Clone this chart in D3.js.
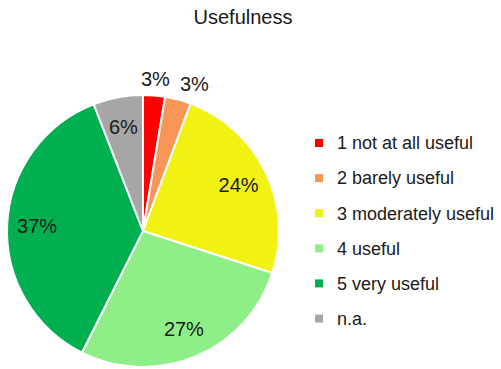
<!DOCTYPE html>
<html>
<head>
<meta charset="utf-8">
<script src="https://cdn.jsdelivr.net/npm/d3@7"></script>
<style>
  body { margin: 0; background: #fff; }
  svg { display: block; font-family: "Liberation Sans", Arial, sans-serif; }
</style>
</head>
<body>
<div id="chart"></div>
<script>
// Chart data
const categories = ['1 not at all useful', '2 barely useful', '3 moderately useful', '4 useful', '5 very useful', 'n.a.'];
const values = [2.6, 3.1, 24.3, 27.4, 36.7, 5.9];
const colors = ['#ff0000', '#f79656', '#f2f212', '#8eee88', '#00b050', '#a6a6a6'];
const title = 'Usefulness';

const width = 501;
const height = 369;

const cx = 143;
const cy = 231;
const radius = 136;

const svg = d3.select('#chart')
  .append('svg')
  .attr('width', width)
  .attr('height', height);

// Title
svg.append('text')
  .attr('x', 243)
  .attr('y', 24)
  .attr('text-anchor', 'middle')
  .style('font-size', '20px')
  .style('fill', '#1a1a1a')
  .text(title);

const items = categories.map((c, i) => ({ name: c, value: values[i], color: colors[i] }));

const pie = d3.pie().sort(null).value(d => d.value);
const arcs = pie(items);

const arc = d3.arc().innerRadius(0).outerRadius(radius);

const g = svg.append('g')
  .attr('transform', `translate(${cx},${cy})`);

g.selectAll('path')
  .data(arcs)
  .enter().append('path')
  .attr('d', arc)
  .style('fill', d => d.data.color)
  .style('stroke', '#fff')
  .style('stroke-width', 2);

// Labels: small slices outside, the rest inside
const inner = d3.arc().innerRadius(radius * 0.78).outerRadius(radius * 0.78);
const outer = d3.arc().innerRadius(radius * 1.12).outerRadius(radius * 1.12);

let lastRight = -Infinity;
arcs.forEach(d => {
  const pct = Math.round(d.data.value) + '%';
  const small = d.data.value < 5;
  let [x, y] = small ? outer.centroid(d) : inner.centroid(d);
  if (small) {
    const w = 29;
    if (x - w / 2 < lastRight + 10) x = lastRight + 10 + w / 2;
    lastRight = x + w / 2;
  }
  g.append('text')
    .attr('x', x)
    .attr('y', y)
    .attr('dy', '0.35em')
    .attr('text-anchor', 'middle')
    .style('font-size', '20px')
    .style('fill', '#1a1a1a')
    .text(pct);
});

// Legend
const legend = svg.append('g')
  .attr('transform', 'translate(315,143)');

const rows = legend.selectAll('g')
  .data(items)
  .enter().append('g')
  .attr('transform', (d, i) => `translate(0,${i * 35.1})`);

rows.append('rect')
  .attr('x', 0)
  .attr('y', -4)
  .attr('width', 8)
  .attr('height', 8)
  .style('fill', d => d.color);

rows.append('text')
  .attr('x', 22)
  .attr('y', 0)
  .attr('dy', '0.35em')
  .style('font-size', '18px')
  .style('fill', '#1a1a1a')
  .text(d => d.name);
</script>
</body>
</html>
